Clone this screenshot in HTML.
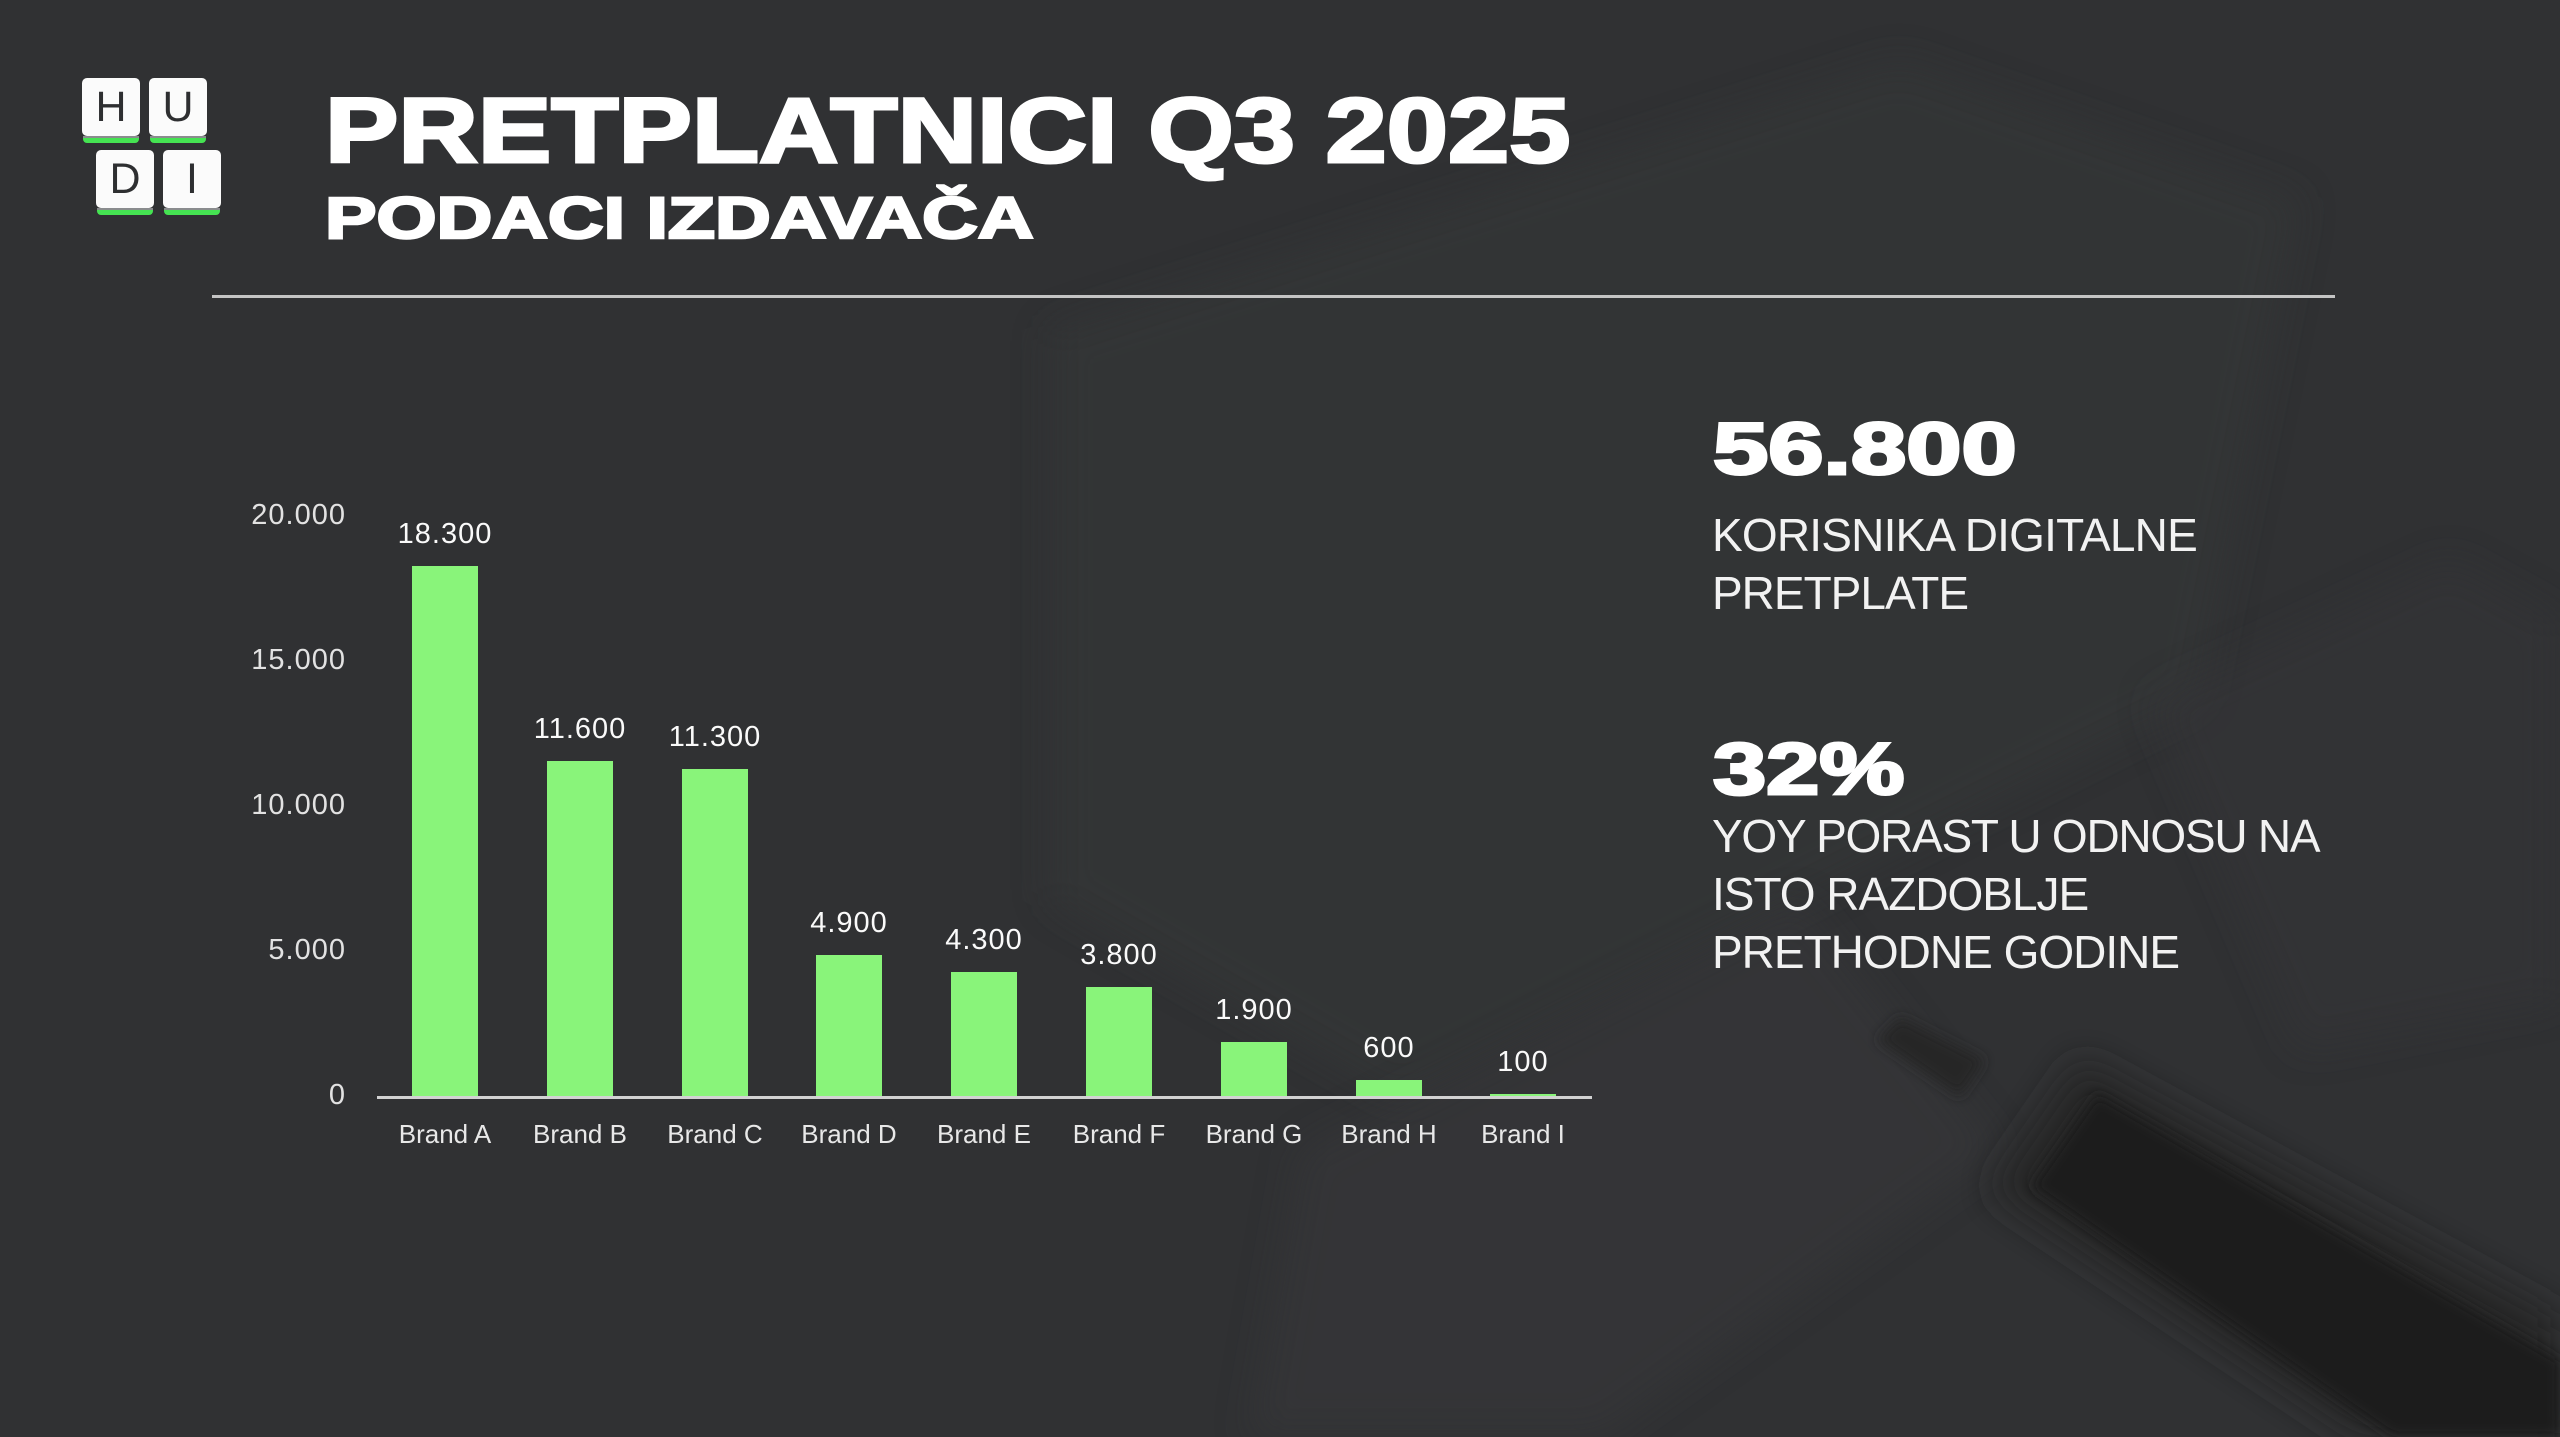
<!DOCTYPE html>
<html>
<head>
<meta charset="utf-8">
<style>
  html, body { margin:0; padding:0; }
  body { width:2560px; height:1437px; overflow:hidden; background:#303133; position:relative; font-family:"Liberation Sans", "DejaVu Sans", sans-serif; }
  .abs { position:absolute; white-space:nowrap; }
  .tile { position:absolute; width:58px; height:58px; background:#fbfbfb; border-radius:5px; color:#2e2f31; font-size:43px; line-height:58px; text-align:center; }
  .tile::after { content:""; position:absolute; left:1px; right:1px; bottom:-7px; height:5px; background:#45e352; border-radius:0 0 4px 4px; }
  .tile::before { content:""; position:absolute; left:1px; right:1px; bottom:-2px; height:2px; background:#8a8c8e; }
  .heavy { font-weight:bold; color:#fff; -webkit-text-stroke:3px #fff; transform-origin:0 0; }
  .bar { position:absolute; width:66px; background:#89f47a; }
  .vl { position:absolute; width:200px; text-align:center; color:#fafafa; font-size:29px; line-height:29px; letter-spacing:1px; }
  .cl { position:absolute; width:200px; text-align:center; color:#e8e8e8; font-size:26px; line-height:26px; }
  .yl { position:absolute; width:200px; text-align:right; color:#e2e2e2; font-size:29px; line-height:29px; letter-spacing:1px; }
  .body { position:absolute; color:#f2f2f2; font-size:46px; line-height:58px; letter-spacing:-1px; white-space:nowrap; }
</style>
</head>
<body>
<svg class="abs" style="left:0;top:0" width="2560" height="1437" viewBox="0 0 2560 1437">
  <defs>
    <filter id="b1" x="-20%" y="-20%" width="140%" height="140%"><feGaussianBlur stdDeviation="18"/></filter>
    <filter id="b2" x="-20%" y="-20%" width="140%" height="140%"><feGaussianBlur stdDeviation="6"/></filter>
  </defs>
  <rect width="2560" height="1437" fill="#303133"/>
  <polygon points="1050,330 1900,60 2300,200 2200,700 1400,1100 1050,900" fill="#363739" opacity="0.55" filter="url(#b1)"/>
  <polygon points="1300,1150 1800,900 2000,1150 1600,1437 1250,1437" fill="#37383a" opacity="0.5" filter="url(#b1)"/>
  <polygon points="2150,700 2450,560 2560,620 2560,1000 2300,1050" fill="#353638" opacity="0.5" filter="url(#b1)"/>
  <polygon points="1990,1190 2080,1060 2560,1320 2560,1437 2360,1437" fill="#252627" filter="url(#b1)"/>
  <polygon points="2031,1187 2097,1093 2560,1360 2560,1437 2393,1437" fill="#1c1c1d" filter="url(#b2)"/>
  <polygon points="1877,1040 1900,1017 1985,1060 1960,1097" fill="#262728" filter="url(#b2)"/>
</svg>

<!-- Logo -->
<div class="tile" style="left:82px;top:78px;">H</div>
<div class="tile" style="left:149px;top:78px;">U</div>
<div class="tile" style="left:96px;top:150px;">D</div>
<div class="tile" style="left:163px;top:150px;">I</div>

<!-- Title -->
<div class="abs heavy" style="left:325px;top:85px;font-size:92px;line-height:92px;transform:scaleX(1.196);">PRETPLATNICI Q3 2025</div>
<div class="abs heavy" style="left:325px;top:190px;font-size:58px;line-height:58px;-webkit-text-stroke:2.5px #fff;transform:scaleX(1.33);">PODACI IZDAVAČA</div>

<!-- separator -->
<div class="abs" style="left:212px;top:295px;width:2123px;height:3px;background:#c4c4c4;"></div>

<!-- Y axis labels -->
<div class="yl" style="left:146px;top:501px;">20.000</div>
<div class="yl" style="left:146px;top:646px;">15.000</div>
<div class="yl" style="left:146px;top:791px;">10.000</div>
<div class="yl" style="left:146px;top:936px;">5.000</div>
<div class="yl" style="left:146px;top:1081px;">0</div>

<!-- Bars -->
<div class="bar" style="left:412px;top:566px;height:531px;"></div>
<div class="bar" style="left:547px;top:761px;height:336px;"></div>
<div class="bar" style="left:682px;top:769px;height:328px;"></div>
<div class="bar" style="left:816px;top:955px;height:142px;"></div>
<div class="bar" style="left:951px;top:972px;height:125px;"></div>
<div class="bar" style="left:1086px;top:987px;height:110px;"></div>
<div class="bar" style="left:1221px;top:1042px;height:55px;"></div>
<div class="bar" style="left:1356px;top:1080px;height:17px;"></div>
<div class="bar" style="left:1490px;top:1094px;height:3px;"></div>

<!-- axis line -->
<div class="abs" style="left:377px;top:1096px;width:1215px;height:3px;background:#d2d2d2;"></div>

<!-- value labels -->
<div class="vl" style="left:345px;top:520px;">18.300</div>
<div class="vl" style="left:480px;top:715px;">11.600</div>
<div class="vl" style="left:615px;top:723px;">11.300</div>
<div class="vl" style="left:749px;top:909px;">4.900</div>
<div class="vl" style="left:884px;top:926px;">4.300</div>
<div class="vl" style="left:1019px;top:941px;">3.800</div>
<div class="vl" style="left:1154px;top:996px;">1.900</div>
<div class="vl" style="left:1289px;top:1034px;">600</div>
<div class="vl" style="left:1423px;top:1048px;">100</div>

<!-- category labels -->
<div class="cl" style="left:345px;top:1121px;">Brand A</div>
<div class="cl" style="left:480px;top:1121px;">Brand B</div>
<div class="cl" style="left:615px;top:1121px;">Brand C</div>
<div class="cl" style="left:749px;top:1121px;">Brand D</div>
<div class="cl" style="left:884px;top:1121px;">Brand E</div>
<div class="cl" style="left:1019px;top:1121px;">Brand F</div>
<div class="cl" style="left:1154px;top:1121px;">Brand G</div>
<div class="cl" style="left:1289px;top:1121px;">Brand H</div>
<div class="cl" style="left:1423px;top:1121px;">Brand I</div>

<!-- Right side stats -->
<div class="abs heavy" style="left:1713px;top:413px;font-size:73px;line-height:73px;transform:scaleX(1.36);">56.800</div>
<div class="body" style="left:1712px;top:506px;"><span style="letter-spacing:-0.8px">KORISNIKA DIGITALNE</span><br>PRETPLATE</div>

<div class="abs heavy" style="left:1713px;top:733px;font-size:73px;line-height:73px;transform:scaleX(1.31);">32%</div>
<div class="body" style="left:1712px;top:807px;"><span style="letter-spacing:-1.25px">YOY PORAST U ODNOSU NA</span><br>ISTO RAZDOBLJE<br>PRETHODNE GODINE</div>

</body>
</html>
